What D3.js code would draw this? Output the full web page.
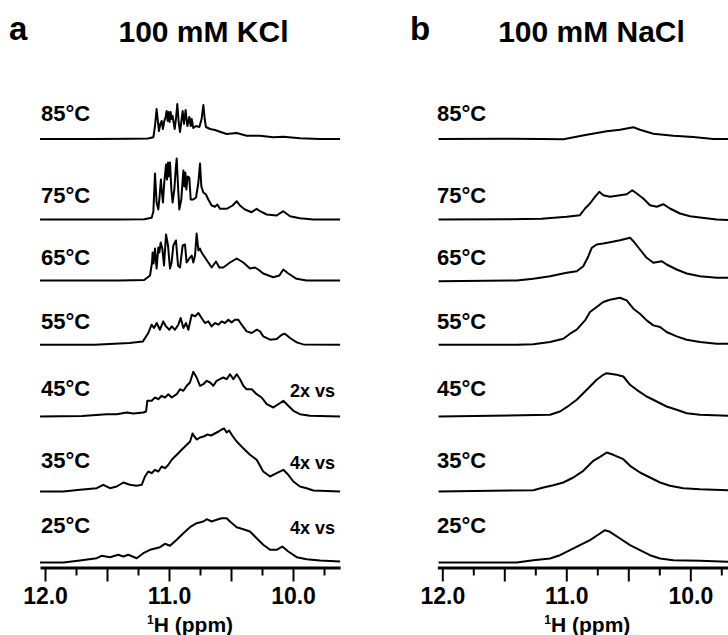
<!DOCTYPE html>
<html>
<head>
<meta charset="utf-8">
<script src="https://cdnjs.cloudflare.com/ajax/libs/d3/7.8.5/d3.min.js"></script>
<style>
body { margin: 0; background: #fff; }
svg text { font-family: "Liberation Sans", Arial, sans-serif; font-weight: bold; fill: #000; }
</style>
</head>
<body>
<div id="chart"></div>
<script>
// ---- data (ppm, intensity) ----
var temps = ['85°C', '75°C', '65°C', '55°C', '45°C', '35°C', '25°C'];
var vsLabels = ['', '', '', '', '2x vs', '4x vs', '4x vs'];
var majorTicks = [12, 11.5, 11, 10.5, 10];
var majorLabels = ['12.0', '', '11.0', '', '10.0'];
var minorTicks = [11.75, 11.25, 10.75, 10.25, 9.75];

// 100 mM KCl
var kcl85 = [[12.04,0],[11.6,0],[11.3,0.3],[11.17,0.5],[11.126,1.7],[11.113,13],[11.1,30],[11.089,17],[11.081,8],[11.07,15],
  [11.059,18],[11.049,10],[11.038,18],[11.027,22],[11.019,28],[11.011,18],[11.003,27],[10.995,17],[10.987,27],[10.979,20],
  [10.971,23],[10.954,10],[10.944,20],[10.933,35],[10.922,17],[10.911,7],[10.901,17],[10.89,28],[10.879,15],[10.866,29],
  [10.852,13],[10.836,22],[10.825,13],[10.817,20],[10.804,11],[10.782,13],[10.755,12],[10.737,20],[10.723,34],[10.712,20],
  [10.702,12],[10.669,10],[10.629,9],[10.589,7.3],[10.535,5],[10.454,6],[10.374,3.3],[10.266,3.3],[10.159,1.7],[10.078,2.3],
  [9.944,0.7],[9.782,0],[9.62,0]];
var kcl75 = [[12.04,0],[11.4,0],[11.2,0.3],[11.14,1.7],[11.126,8],[11.113,46],[11.1,17],[11.086,10],[11.076,23],[11.065,40],
  [11.057,27],[11.049,17],[11.038,37],[11.024,55],[11.016,40],[11.008,57],[11.0,43],[10.992,57],[10.981,30],[10.971,17],
  [10.957,30],[10.946,50],[10.938,61],[10.927,33],[10.917,10],[10.901,20],[10.884,49],[10.876,33],[10.868,47],[10.86,30],
  [10.849,43],[10.836,42],[10.825,20],[10.804,20],[10.782,22],[10.763,37],[10.75,56],[10.739,33],[10.723,27],[10.702,25],
  [10.683,20],[10.656,14],[10.629,12.7],[10.61,15],[10.589,10.7],[10.535,10.7],[10.487,14],[10.454,18.3],[10.428,14],[10.388,10],
  [10.334,7.3],[10.293,10.7],[10.266,8.3],[10.212,5],[10.132,4],[10.078,8.3],[10.024,3.3],[9.944,1.3],[9.836,0],[9.62,0]];
var kcl65 = [[12.04,0],[11.4,0],[11.2,0.5],[11.153,5],[11.137,18],[11.132,28],[11.124,17],[11.113,32],[11.1,12],[11.086,33],
  [11.078,28],[11.067,38],[11.054,32],[11.04,15],[11.024,46],[11.008,35],[10.992,12],[10.979,18],[10.965,35],[10.944,40],
  [10.927,15],[10.911,13],[10.89,35],[10.871,36],[10.858,18],[10.836,22],[10.817,25],[10.804,18],[10.79,25],[10.777,47],
  [10.763,30],[10.75,32],[10.737,28],[10.71,23],[10.683,18],[10.656,13],[10.621,19],[10.594,13],[10.562,13],[10.508,18],
  [10.454,22],[10.401,18],[10.347,12],[10.307,13],[10.28,11],[10.24,7],[10.159,3.3],[10.11,5],[10.078,11],[10.038,7],
  [9.971,1.7],[9.89,0],[9.62,0]];
var kcl55 = [[12.04,0],[11.6,0],[11.32,1.7],[11.21,3.3],[11.167,11.7],[11.14,20],[11.121,16.7],[11.099,21.7],[11.073,15],[11.046,23.3],
  [11.024,18.3],[10.997,15],[10.978,18.3],[10.952,15],[10.925,20],[10.906,26.7],[10.884,16.7],[10.863,21.7],[10.844,15],[10.817,30],
  [10.79,28.3],[10.763,31.7],[10.737,26.7],[10.71,21.7],[10.683,23.3],[10.656,18.3],[10.629,21.7],[10.602,20],[10.575,23.3],[10.548,21.7],
  [10.522,25],[10.495,22.3],[10.468,25],[10.441,25],[10.414,20],[10.374,13.3],[10.333,11.7],[10.293,15],[10.266,13.3],[10.24,8.3],
  [10.185,5],[10.132,5.7],[10.091,10],[10.065,11],[10.024,6.7],[9.97,2.3],[9.917,0.3],[9.62,0]];
var kcl45 = [[12.04,0],[11.7,0.5],[11.503,2.3],[11.422,2.3],[11.341,4],[11.288,3],[11.207,4],[11.185,5],[11.175,15.7],[11.14,15.7],
  [11.113,19],[11.086,17.3],[11.059,20.7],[11.032,19],[11.005,22.3],[10.978,19],[10.938,22.3],[10.911,27.3],[10.884,25.7],[10.857,30.7],
  [10.831,34],[10.804,44.7],[10.777,39],[10.75,30.7],[10.723,32.3],[10.696,35.7],[10.669,34],[10.642,30.7],[10.616,35.7],[10.589,37.3],
  [10.562,39],[10.535,37.3],[10.508,42.3],[10.481,37.3],[10.454,42.3],[10.427,37.3],[10.401,30.7],[10.374,27.3],[10.333,27.3],[10.293,22.3],
  [10.253,19],[10.212,12.3],[10.159,9],[10.118,12.3],[10.078,15.7],[10.038,10.7],[9.997,5.7],[9.944,2.3],[9.863,0.7],[9.62,0]];
var kcl35 = [[12.04,0],[11.852,0],[11.718,1.7],[11.583,3.3],[11.53,6.7],[11.476,3.3],[11.422,5],[11.368,9],[11.315,6.7],[11.261,5.7],
  [11.22,6.7],[11.194,15],[11.167,20],[11.14,18.3],[11.113,21.7],[11.086,20],[11.059,25],[11.032,23.3],[11.005,26.7],[10.978,31.7],
  [10.952,35],[10.925,38.3],[10.898,41.7],[10.871,45],[10.844,48.3],[10.83,50],[10.81,58],[10.795,55],[10.775,52],[10.75,54],
  [10.72,55],[10.69,57],[10.66,56],[10.63,58],[10.6,60],[10.575,62],[10.555,63],[10.535,59],[10.515,61],[10.49,56],
  [10.454,50],[10.401,43.3],[10.347,36.7],[10.293,31.7],[10.24,20],[10.185,15],[10.132,18.3],[10.078,21.7],[10.038,16.7],[9.997,10],
  [9.944,5],[9.89,3.3],[9.836,1],[9.62,0]];
var kcl25 = [[12.04,0],[11.852,0],[11.718,2],[11.583,4.3],[11.543,6.7],[11.476,5.3],[11.409,7.7],[11.368,6],[11.328,7.7],[11.261,4.3],
  [11.207,9.3],[11.153,12.7],[11.073,15.3],[11.032,18.7],[10.992,16.7],[10.938,22.7],[10.884,29.3],[10.831,35.3],[10.777,39.3],[10.723,41],
  [10.696,43.3],[10.656,41],[10.616,42.7],[10.575,44.3],[10.535,44.3],[10.508,41],[10.454,35.3],[10.401,33.3],[10.347,31],[10.293,24.3],
  [10.24,17.7],[10.185,12.7],[10.132,12.7],[10.086,16],[10.038,11],[9.97,5.3],[9.89,3.3],[9.782,2],[9.62,1]];

// 100 mM NaCl
var nacl85 = [[12.03,0],[11.5,0.3],[11.2,0],[11.024,-0.3],[10.835,4.3],[10.674,7.7],[10.567,9.3],[10.459,11.7],[10.406,9.3],[10.298,5.3],
  [10.137,3.3],[9.976,2],[9.815,0],[9.69,0]];
var nacl75 = [[12.03,0],[11.5,0.3],[11.2,0.7],[10.997,2.7],[10.89,4.3],[10.849,11],[10.809,16],[10.769,22.7],[10.734,27.7],[10.702,24.3],
  [10.648,22.7],[10.567,24.3],[10.513,25.3],[10.468,29.3],[10.432,26],[10.379,21],[10.325,14.3],[10.271,12.7],[10.218,15.3],[10.164,11],
  [10.083,6],[10.002,3.3],[9.922,2],[9.787,0],[9.69,-0.5]];
var nacl65 = [[12.03,-0.7],[11.4,0],[11.266,1.7],[11.131,4.3],[10.997,7.7],[10.916,9.3],[10.863,14.3],[10.822,24.3],[10.795,32.7],[10.755,36],
  [10.702,37],[10.648,38.3],[10.567,40.3],[10.486,42.7],[10.459,39.3],[10.406,31],[10.352,22.7],[10.298,17.7],[10.231,19.3],[10.191,16],
  [10.11,11],[10.029,7],[9.922,4.3],[9.787,2.7],[9.69,2.7]];
var nacl55 = [[12.03,0],[11.4,0],[11.266,0.5],[11.131,2.7],[11.024,6],[10.97,11],[10.916,15],[10.849,24.3],[10.809,32.7],[10.755,37.7],
  [10.702,42.7],[10.648,45],[10.607,46],[10.567,47],[10.513,44.3],[10.459,36],[10.406,31],[10.352,24.3],[10.298,19.3],[10.244,17.7],
  [10.191,12.7],[10.11,8.3],[10.029,5],[9.922,2.7],[9.787,1],[9.69,1]];
var nacl45 = [[12.03,0],[11.131,1.7],[11.051,5],[10.997,9.3],[10.916,16.7],[10.835,26.7],[10.755,36.7],[10.702,41.7],[10.674,43.3],[10.594,41.7],
  [10.54,40],[10.486,31.7],[10.432,26.7],[10.352,20],[10.271,15],[10.191,10],[10.11,6.7],[10.029,3.3],[9.922,1.7],[9.69,0.7]];
var nacl35 = [[12.03,0],[11.266,1.3],[11.185,4],[11.105,6.3],[11.024,9],[10.943,14],[10.863,20.7],[10.782,30.7],[10.728,34.7],[10.674,39],
  [10.621,36.7],[10.54,32.3],[10.486,25.7],[10.406,19],[10.325,14],[10.244,9],[10.164,5.7],[10.056,3.3],[9.922,2.3],[9.69,1.3]];
var nacl25 = [[12.03,0],[11.4,0],[11.266,2.3],[11.131,4],[11.051,7.3],[10.97,12.3],[10.89,17.3],[10.809,22.3],[10.728,29],[10.688,32.3],
  [10.648,30.7],[10.567,24],[10.486,17.3],[10.406,12.3],[10.325,7.3],[10.244,4],[10.137,2.3],[9.922,1.7],[9.69,0.7]];

var kclSpectra = [kcl85, kcl75, kcl65, kcl55, kcl45, kcl35, kcl25];
var naclSpectra = [nacl85, nacl75, nacl65, nacl55, nacl45, nacl35, nacl25];

// ---- layout ----
var svgWidth = 728;
var svgHeight = 635;

// baseline of each trace and of its temperature label
var rowBase = [139, 219.5, 280.5, 344.7, 416.5, 491.5, 562.5];
var labelBase = [121, 202.5, 264.5, 329, 395.5, 468, 533];
var axisY = 567.5;

var svg = d3.select('#chart')
    .append('svg')
    .attr('width', svgWidth)
    .attr('height', svgHeight);

// intensity in px above the baseline
var yInt = d3.scaleLinear()
    .domain([0, 60])
    .range([0, -60]);

function drawPanel(opts, spectra, showVs) {
    var x = d3.scaleLinear()
        .domain([12, 10])
        .range([opts.x12, opts.x12 + 248]);

    var g = svg.append('g');

    // panel letter and title
    g.append('text')
        .attr('x', opts.letterX)
        .attr('y', 40)
        .style('font-size', '33px')
        .text(opts.letter);

    g.append('text')
        .attr('x', opts.titleX)
        .attr('y', 41.5)
        .attr('text-anchor', 'middle')
        .style('font-size', '30px')
        .text(opts.title);

    var line = d3.line()
        .x(d => x(d[0]))
        .y(d => yInt(d[1]));

    spectra.forEach(function(s, i) {
        g.append('path')
            .attr('transform', `translate(0, ${rowBase[i]})`)
            .attr('d', line(s))
            .attr('fill', 'none')
            .attr('stroke', '#000')
            .attr('stroke-width', 2)
            .attr('stroke-linejoin', 'round');

        g.append('text')
            .attr('x', opts.labelX)
            .attr('y', labelBase[i])
            .style('font-size', '22px')
            .text(temps[i]);

        if (showVs && vsLabels[i]) {
            g.append('text')
                .attr('x', 335)
                .attr('y', labelBase[i] + 1)
                .attr('text-anchor', 'end')
                .style('font-size', '18px')
                .text(vsLabels[i]);
        }
    });

    // axis spans the drawn range of the traces
    var axisScale = x.copy()
        .domain([opts.left, opts.right])
        .range([x(opts.left), x(opts.right)]);

    var majorAxis = d3.axisBottom(axisScale)
        .tickValues(majorTicks)
        .tickSize(14)
        .tickSizeOuter(0)
        .tickPadding(6)
        .tickFormat((d, i) => majorLabels[i]);

    var ax = g.append('g')
        .attr('transform', `translate(0, ${axisY})`)
        .call(majorAxis);

    ax.select('.domain').attr('stroke-width', 3);
    ax.selectAll('.tick line').attr('stroke-width', 2);
    ax.selectAll('.tick text')
        .attr('font-family', null)
        .style('font-size', '23px');

    var minorAxis = d3.axisBottom(axisScale)
        .tickValues(minorTicks)
        .tickSize(8)
        .tickFormat('');

    var mx = g.append('g')
        .attr('transform', `translate(0, ${axisY})`)
        .call(minorAxis);
    mx.select('.domain').remove();
    mx.selectAll('.tick line').attr('stroke-width', 2);

    // axis title with superscript
    var t = g.append('text')
        .attr('x', x(10.83))
        .attr('y', 632)
        .attr('text-anchor', 'middle')
        .style('font-size', '21px');
    t.append('tspan')
        .attr('dy', -8)
        .style('font-size', '12px')
        .text('1');
    t.append('tspan')
        .attr('dy', 8)
        .text('H (ppm)');
}

drawPanel({x12: 45, left: 12.04, right: 9.62, letter: 'a', letterX: 9, title: '100 mM KCl', titleX: 203.5, labelX: 41},
    kclSpectra, true);
drawPanel({x12: 442.3, left: 12.04, right: 9.68, letter: 'b', letterX: 410, title: '100 mM NaCl', titleX: 591.5, labelX: 437},
    naclSpectra, false);
</script>
</body>
</html>
